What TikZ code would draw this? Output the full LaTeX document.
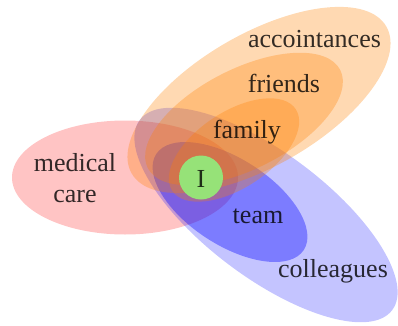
\documentclass[tikz,border=0pt]{standalone}
\usepackage{fontspec}
\setmainfont{Liberation Serif}
\definecolor{igreen}{RGB}{150,226,120}
\tikzset{
	setlabel/.style={font=\fontsize{26}{31}\selectfont, text=black, text opacity=0.8, inner sep=0pt},
	orangeset/.style={fill=orange, fill opacity=0.3},
	blueset/.style={fill=blue, fill opacity=#1},
	redset/.style={fill=red, fill opacity=0.23}
}
\begin{document}
\begin{tikzpicture}[x=1pt, y=1pt]
	\useasboundingbox (0,0) rectangle (398,325);
	%medical care
	\fill[redset] (125,147.5) ellipse [x radius=113, y radius=57];
	%colleagues, team
	\fill[blueset=0.23, rotate around={-37:(266,110)}] (266,110) ellipse [x radius=158, y radius=62];
	\fill[blueset=0.37, rotate around={-33:(230,123)}] (230,123) ellipse [x radius=88, y radius=43];
	%accointances, friends, family
	\fill[orangeset, rotate around={30:(259,225)}] (259,225) ellipse [x radius=147, y radius=66];
	\fill[orangeset, rotate around={27:(244,206)}] (244,206) ellipse [x radius=108, y radius=50];
	\fill[orangeset, rotate around={33.5:(234,175)}] (234,175) ellipse [x radius=74, y radius=38];
	%me
	\fill[igreen] (201,147.5) circle (22);
	%labels
	\node[setlabel, anchor=base] (acc) at (314.5,278) {accointances};
	\node[setlabel, anchor=base] (fri) at (284,233) {friends};
	\node[setlabel, anchor=base] (fam) at (247,187) {family};
	\node[setlabel, align=center] (med) at (75,146.5) {medical\\care};
	\node[setlabel, anchor=base] (me) at (201,138) {I};
	\node[setlabel, anchor=base] (tea) at (258,102) {team};
	\node[setlabel, anchor=base] (col) at (333,48) {colleagues};
\end{tikzpicture}
\end{document}
